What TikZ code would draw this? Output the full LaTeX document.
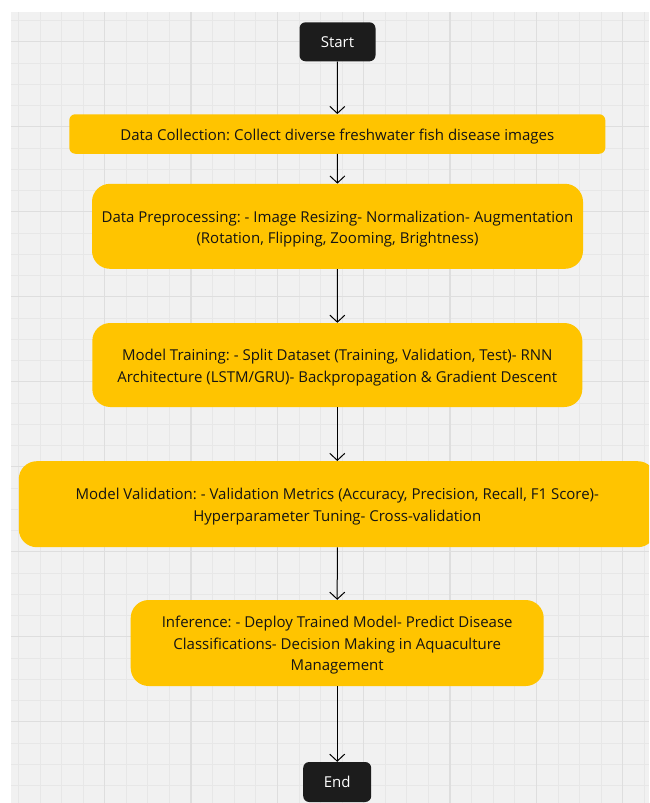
\documentclass[tikz,border=0pt]{standalone}
\usepackage{fontspec}
\setmainfont{Open Sans}
\usetikzlibrary{arrows.meta}
\definecolor{gridbg}{HTML}{F1F1F1}
\definecolor{gridminor}{HTML}{E7E7E7}
\definecolor{gridmajor}{HTML}{DEDEDE}
\definecolor{stepyellow}{HTML}{FFC400}
\definecolor{termblack}{HTML}{1C1C1C}
\newcommand{\topfix}{\rule{0pt}{16.5pt}}
\tikzset{
  stepbox/.style={fill=stepyellow, rounded corners=#1, align=center, inner sep=0pt,
    font=\fontsize{15}{21.5}\selectfont\frenchspacing, text=black!92},
  stepbox/.default=18pt,
  termbox/.style={fill=termblack, rounded corners=6pt, text=white, inner sep=0pt,
    font=\fontsize{15}{18}\selectfont},
  flow/.style={draw=black, line width=1pt, -{Straight Barb[length=7pt,width=15pt,line width=1pt]}}
}
\begin{document}
\begin{tikzpicture}[x=1pt,y=-1pt]
\useasboundingbox (0,0) rectangle (649,803);
\clip (0,0) rectangle (649,803);
% grid background
\fill[gridbg] (11,12) rectangle (649,803);
\foreach \i in {0,...,29} {
  \draw[gridminor, line width=0.8pt] ({18.4+21.58*\i},12) -- ({18.4+21.58*\i},803);
}
\foreach \i in {0,...,37} {
  \draw[gridminor, line width=0.8pt] (11,{20.45+21.25*\i}) -- (649,{20.45+21.25*\i});
}
\foreach \i in {1,...,7} {
  \draw[gridmajor, line width=1.2pt] ({18.4+86.3*\i},12) -- ({18.4+86.3*\i},803);
}
\foreach \i in {0,...,9} {
  \draw[gridmajor, line width=1.2pt] (11,{41.7+85*\i}) -- (649,{41.7+85*\i});
}
% nodes
\node[termbox, minimum width=76pt, minimum height=39pt] (start) at (337.5,41.8) {Start};
\node[stepbox=6pt, minimum width=536pt, minimum height=39.5pt] (collect) at (337.3,134) {\topfix Data Collection: Collect diverse freshwater fish disease images};
\node[stepbox, minimum width=491pt, minimum height=85pt] (prep) at (337.5,226.3) {\topfix Data Preprocessing: - Image Resizing- Normalization- Augmentation\\(Rotation, Flipping, Zooming, Brightness)};
\node[stepbox, minimum width=490pt, minimum height=84pt] (train) at (337.3,365) {\topfix Model Training: - Split Dataset (Training, Validation, Test)- RNN\\Architecture (LSTM/GRU)- Backpropagation \& Gradient Descent};
\node[stepbox, minimum width=637pt, minimum height=86pt] (valid) at (337.3,504.2) {\topfix Model Validation: - Validation Metrics (Accuracy, Precision, Recall, F1 Score)-\\Hyperparameter Tuning- Cross-validation};
\node[stepbox, minimum width=413pt, minimum height=86pt] (infer) at (337.2,643) {\topfix Inference: - Deploy Trained Model- Predict Disease\\Classifications- Decision Making in Aquaculture\\Management};
\node[termbox, minimum width=68pt, minimum height=40pt] (end) at (337.2,782) {End};
% connectors
\draw[flow] (start) -- (collect);
\draw[flow] (collect) -- (prep);
\draw[flow] (prep) -- (train);
\draw[flow] (train) -- (valid);
\draw[flow] (valid) -- (infer);
\draw[flow] (infer) -- (end);
\end{tikzpicture}
\end{document}
